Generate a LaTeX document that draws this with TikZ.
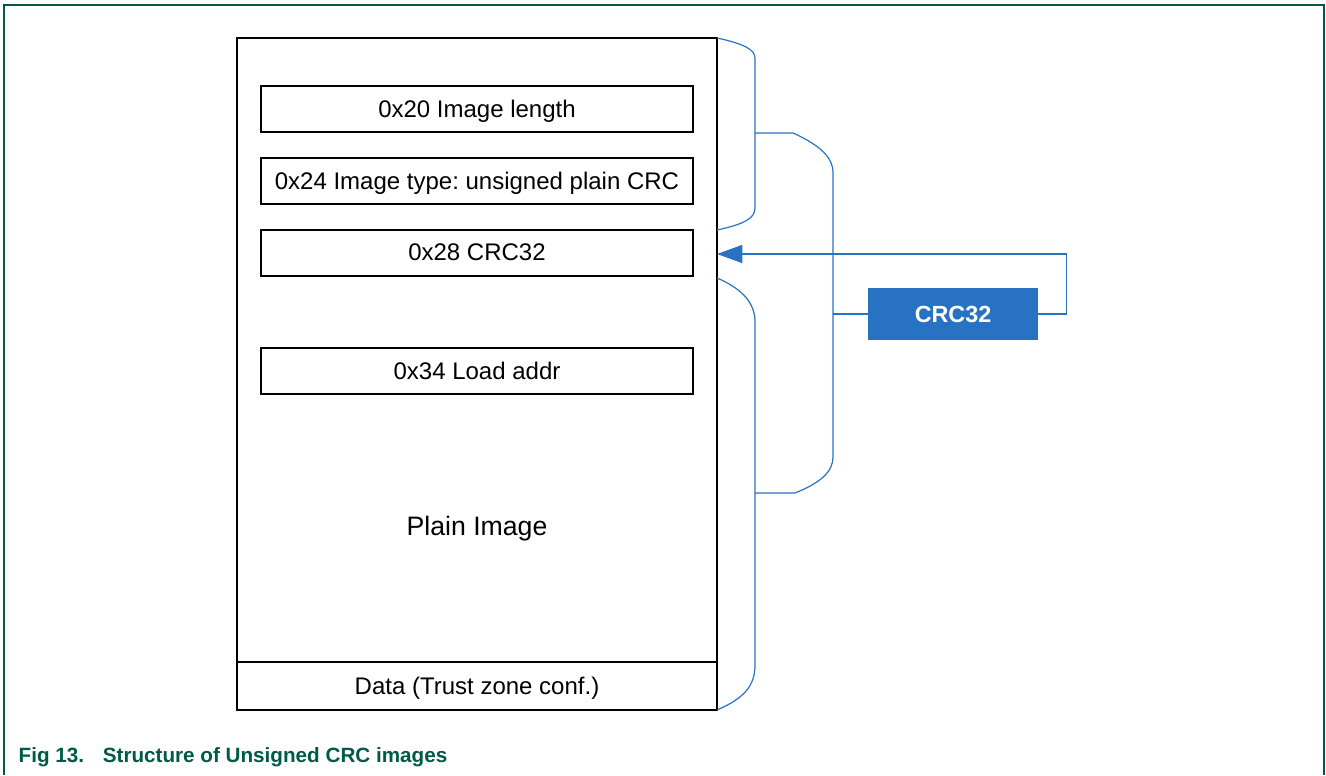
\documentclass[tikz,border=0pt]{standalone}
\usepackage{fontspec}
\setmainfont{Liberation Sans}
\usetikzlibrary{arrows.meta}
\definecolor{figgreen}{RGB}{0,90,72}
\definecolor{crcblue}{RGB}{40,114,196}
\frenchspacing
\begin{document}
\begin{tikzpicture}[x=0.75pt,y=-0.75pt,
    field/.style={draw,line width=1.1pt,minimum width=324pt,minimum height=34.5pt,inner sep=0pt,text depth=1pt,font=\fontsize{18}{21}\selectfont},
    brace/.style={draw=crcblue,line width=0.9pt},
    crc node/.style={fill=crcblue,text=white,minimum width=127.5pt,minimum height=39pt,inner sep=0pt,font=\fontsize{17.5}{21}\selectfont\bfseries}]
            \useasboundingbox (0,0) rectangle (1326,775);
            \draw[figgreen,line width=1.5pt] (4,775) -- (4,5) -- (1324,5) -- (1324,775);

            \node[field,minimum width=360pt,minimum height=468pt] at (477,350) (main) {};
            \node[field,minimum width=360pt,minimum height=36pt] at (477,686) (data) {Data (Trust zone conf.)};
            \node[field] at (477,109) (len) {0x20 Image length};
            \node[field] at (477,181) (type) {0x24 Image type: unsigned plain CRC};
            \node[field] at (477,253) (crcfield) {0x28 CRC32};
            \node[field] at (477,371) (load) {0x34 Load addr};
            \node[font=\fontsize{20}{24}\selectfont] at (477,529) (plain) {Plain Image};
            \node[crc node] at (953,314) (crc) {CRC32};
            \node[anchor=west,text=figgreen,font=\fontsize{15.5}{18}\selectfont\bfseries] at (14,757) (caption)
                {Fig 13.\hspace{14pt}Structure of Unsigned CRC images};

            \coordinate (tipa) at (755,133);
            \coordinate (tipb) at (833,314);
            \coordinate (tipc) at (755,493);
            \coordinate (hook) at (717,254);

            % braces
            \path[brace] (717,38) .. controls (745,44) and (755,50) .. (755,58) -- (755,208)
                .. controls (755,218) and (745,224) .. (717,230);
            \path[brace] (717,278) .. controls (745,290) and (755,305) .. (755,322) -- (755,665)
                .. controls (755,685) and (745,698) .. (717,710);
            \path[brace] (tipa) -- (793,133) .. controls (820,145) and (833,158) .. (833,172) -- (833,457)
                .. controls (833,472) and (820,483) .. (795,493) -- (tipc);
            \path[brace] (tipb) -- (crc.west);

            \path[brace,-{Triangle[length=19pt,width=13.5pt]}] (crc.east) -- ++(28,0) |- (hook);
        \end{tikzpicture}
\end{document}
